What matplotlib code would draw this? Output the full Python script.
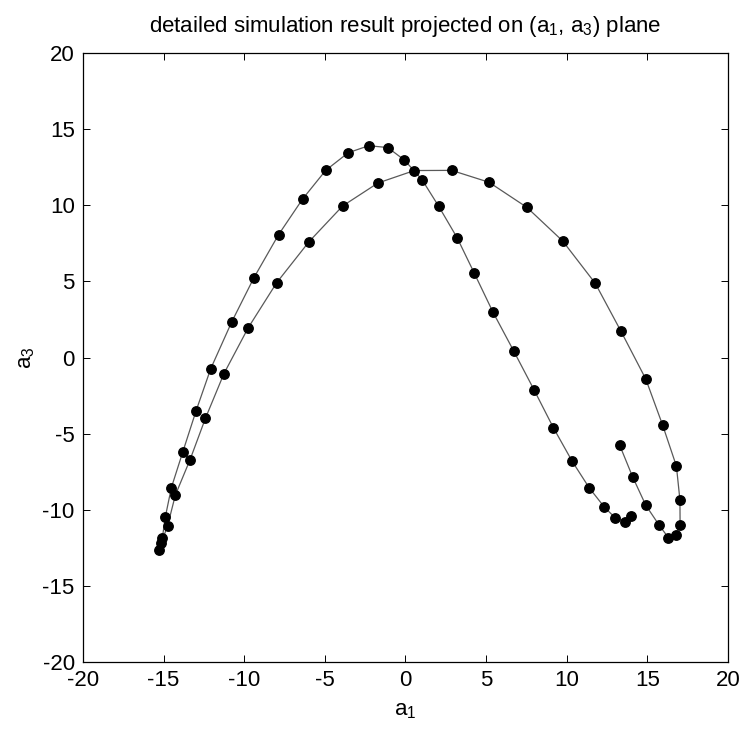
import matplotlib
matplotlib.use("Agg")
import matplotlib.pyplot as plt

plt.rcParams['font.family'] = ['Liberation Sans', 'DejaVu Sans']
plt.rcParams['mathtext.fontset'] = 'custom'
plt.rcParams['mathtext.rm'] = 'Liberation Sans'
plt.rcParams['axes.unicode_minus'] = False

# trajectory projected on the (a1, a3) plane, in time order
a1 = [13.28, 14.09, 14.90, 15.71, 16.30, 16.80, 17.03, 17.02, 16.80, 15.95,
      14.90, 13.37, 11.77, 9.75, 7.53, 5.18, 2.86, 0.55, -1.71, -3.90,
      -5.98, -7.99, -9.75, -11.26, -12.41, -13.36, -14.27, -14.75, -15.15, -15.27,
      -15.08, -14.89, -14.52, -13.82, -12.99, -12.08, -10.78, -9.40, -7.87, -6.38,
      -4.95, -3.55, -2.28, -1.10, -0.07, 1.02, 2.06, 3.21, 4.27, 5.43,
      6.72, 7.99, 9.17, 10.34, 11.40, 12.33, 13.02, 13.59, 13.97]
a3 = [-5.75, -7.85, -9.70, -10.98, -11.83, -11.69, -10.97, -9.36, -7.13, -4.45,
      -1.41, 1.71, 4.87, 7.65, 9.86, 11.51, 12.29, 12.28, 11.46, 9.95,
      7.61, 4.91, 1.96, -1.06, -4.00, -6.71, -9.03, -11.04, -12.20, -12.65,
      -11.85, -10.45, -8.55, -6.23, -3.51, -0.74, 2.33, 5.24, 8.07, 10.41,
      12.29, 13.45, 13.91, 13.79, 12.97, 11.69, 9.93, 7.85, 5.53, 2.97,
      0.41, -2.16, -4.61, -6.82, -8.57, -9.82, -10.55, -10.79, -10.40]

ticks = [-20, -15, -10, -5, 0, 5, 10, 15, 20]

fig = plt.figure(figsize=(7.43, 7.35), dpi=100)
ax = fig.add_axes([0.1117, 0.0993, 0.8681, 0.8286])

ax.plot(a1, a3, color='0.35', linewidth=0.9, zorder=2)
ax.plot(a1, a3, 'o', color='black', markersize=6.8, linestyle='none', zorder=3)

ax.set_xlim(-20, 20)
ax.set_ylim(-20, 20)
ax.set_xticks(ticks)
ax.set_yticks(ticks)
ax.tick_params(direction='in', length=5, width=0.7, top=True, right=True,
               labelsize=16, pad=6, colors='black')
for sp in ax.spines.values():
    sp.set_linewidth(0.9)

ax.set_xlabel(r'a$_\mathregular{1}$', fontsize=16, labelpad=6)
ax.set_ylabel(r'a$_\mathregular{3}$', fontsize=16, labelpad=4)
ax.set_title(r'detailed simulation result projected on (a$_\mathregular{1}$, a$_\mathregular{3}$) plane',
             fontsize=16, pad=15)

fig.savefig('out.png', dpi=100, facecolor='white')
